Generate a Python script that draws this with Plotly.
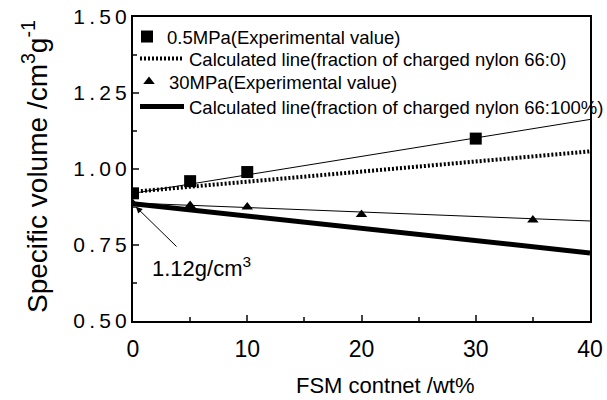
import plotly.graph_objects as go

# Data
x_05 = [0, 5, 10, 30]
y_05 = [0.92, 0.96, 0.99, 1.10]
fit05_x = [0, 40]
fit05_y = [0.92, 1.163]
calc0_x = [0, 40]
calc0_y = [0.925, 1.058]
x_30 = [0, 5, 10, 20, 35]
y_30 = [0.885, 0.88, 0.875, 0.85, 0.832]
fit30_x = [0, 40]
fit30_y = [0.888, 0.829]
calc100_x = [0, 40]
calc100_y = [0.886, 0.724]

y_tickvals = [0.5, 0.75, 1.0, 1.25, 1.5]
y_ticklabels = ["0.50", "0.75", "1.00", "1.25", "1.50"]
x_tickvals = [0, 10, 20, 30, 40]
x_ticklabels = ["0", "10", "20", "30", "40"]

FONT = "Liberation Sans, Arial, sans-serif"
THIN = "\u2009"

fig = go.Figure()
fig.add_trace(go.Scatter(x=fit05_x, y=fit05_y, mode="lines", line=dict(color="black", width=1), showlegend=False))
fig.add_trace(go.Scatter(x=fit30_x, y=fit30_y, mode="lines", line=dict(color="black", width=1), showlegend=False))
fig.add_trace(go.Scatter(x=calc0_x, y=calc0_y, mode="lines", line=dict(color="black", width=4, dash="2px,2px"),
                         name="Calculated line(fraction of charged nylon 66:0)", legend="legend2"))
fig.add_trace(go.Scatter(x=calc100_x, y=calc100_y, mode="lines", line=dict(color="black", width=5),
                         name="Calculated line(fraction of charged nylon 66:100%)", legend="legend4"))
fig.add_trace(go.Scatter(x=x_05, y=y_05, mode="markers", marker=dict(symbol="square", size=12, color="black"),
                         name="0.5MPa(Experimental value)", legend="legend"))
fig.add_trace(go.Scatter(x=x_30, y=y_30, mode="markers", marker=dict(symbol="triangle-up", size=10, color="black"),
                         name="30MPa(Experimental value)", legend="legend3"))

fig.add_annotation(x=0, y=0.885, xref="x", yref="y", ax=45, ay=44, showarrow=True, standoff=4,
                   arrowhead=2, arrowsize=1.3, arrowwidth=1, arrowcolor="black", text="")
fig.add_annotation(x=1.45, y=0.678, xref="x", yref="y", text="1.12g/cm<sup>3</sup>", showarrow=False,
                   xanchor="left", yanchor="middle", font=dict(size=22, color="black", family=FONT))

# Axis titles
fig.add_annotation(x=(385 - 133) / 457, y=(321 - 385) / 304, xref="paper", yref="paper",
                   text="FSM contnet /wt%", showarrow=False, xanchor="center", yanchor="middle",
                   font=dict(size=22, color="black", family=FONT))
fig.add_annotation(x=(35 - 133) / 457, y=(321 - 167) / 304, xref="paper", yref="paper",
                   text="Specific volume /cm<sup>3</sup>g<sup>-1</sup>", showarrow=False, textangle=-90,
                   xanchor="center", yanchor="middle", font=dict(size=28, color="black", family=FONT))

def leg(xp, yp, iw):
    return dict(x=(xp - 133) / 457, y=1 - (yp - 17) / 304, xanchor="left", yanchor="middle",
                bgcolor="rgba(0,0,0,0)", font=dict(size=18.5, family=FONT, color="black"), itemwidth=iw)

fig.update_layout(
    width=607, height=400,
    margin=dict(l=133, r=17, t=17, b=79, autoexpand=False),
    plot_bgcolor="white", paper_bgcolor="white",
    font=dict(family=FONT, color="black"),
    showlegend=True,
    legend=leg(127, 37, 30),
    legend2=leg(135, 59, 44),
    legend3=leg(129, 82, 30),
    legend4=leg(135, 107, 44),
    xaxis=dict(range=[0, 40], tickvals=x_tickvals, ticktext=x_ticklabels, ticks="inside", ticklen=6, tickwidth=1.5,
               showline=True, linecolor="black", linewidth=2, mirror=True, showgrid=False, zeroline=False,
               minor=dict(dtick=5, ticks="inside", ticklen=4, tickwidth=1.5),
               tickfont=dict(size=23, family=FONT), ticklabelstandoff=6, tickangle=0),
    yaxis=dict(range=[0.5, 1.5], tickvals=y_tickvals, ticktext=[THIN.join(t) for t in y_ticklabels],
               ticks="inside", ticklen=6, tickwidth=1.5,
               showline=True, linecolor="black", linewidth=2, mirror=True, showgrid=False, zeroline=False,
               minor=dict(dtick=0.125, ticks="inside", ticklen=4, tickwidth=1.5),
               tickfont=dict(size=21, family=FONT)),
)
fig.write_html("out.html")
